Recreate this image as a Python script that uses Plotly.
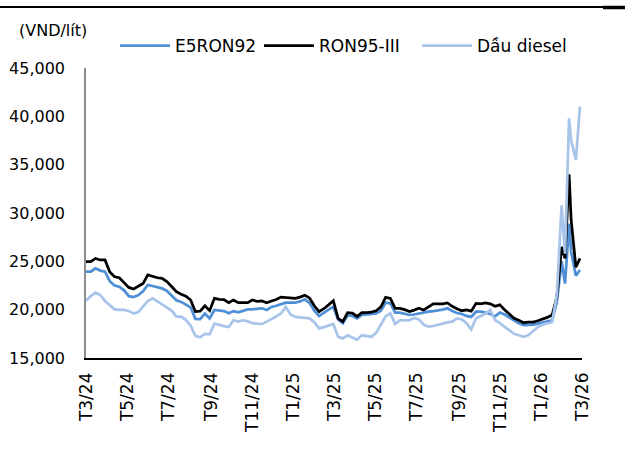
import pandas as pd
import plotly.graph_objects as go

# ---- data (VND per litre) ----
weekly_dates = list(pd.date_range("2024-03-07", periods=101, freq="7D").strftime("%Y-%m-%d"))
extra_dates = ["2026-02-10", "2026-02-16", "2026-02-19", "2026-02-26", "2026-03-04"]
dates = weekly_dates + extra_dates

e5ron92 = [
    23930, 23930, 24280, 24040, 23930, 22950, 22500, 22380, 22000, 21400, 21300, 21500, 21900, 22550,
    22450, 22300, 22200, 21950, 21500, 20980, 20800, 20550, 20240, 19050, 19030, 19600, 19100, 19970,
    19900, 19860, 19620, 19850, 19720, 19900, 20030, 20030, 20100, 20140,
    19970, 20280, 20400, 20600, 20720, 20720, 20720, 20850, 21070, 20700, 19900, 19340, 19700, 20000,
    20300, 19000, 18600, 19400, 19350, 19100, 19450, 19500, 19550, 19620, 19900, 20720, 20650, 19690,
    19690, 19550, 19450, 19500, 19620, 19700, 19790,
    19850, 19900, 20000, 20140, 19850, 19650, 19550, 19350, 19250, 19790, 19790, 19700, 19550, 19300,
    19700, 19500, 19200, 18850, 18600, 18410, 18410, 18450, 18550, 18650, 18760, 18900, 20800,
    25000, 22700, 28900, 26000, 23500, 24100,
]
ron95_iii = [
    24960, 24960, 25300, 25140, 25140, 23900, 23400, 23300, 22800, 22300, 22140, 22380, 22700, 23600,
    23410, 23300, 23240, 22900, 22400, 21860, 21600, 21400, 21000, 19800, 19850, 20400, 19900, 21170,
    21070, 21050, 20720, 21000, 20720, 20720, 20720, 21000, 20850, 20900,
    20720, 20900, 21050, 21300, 21250, 21170, 21170, 21300, 21500, 21200, 20400, 19800, 20100, 20500,
    20930, 19100, 18760, 19690, 19640, 19300, 19690, 19690, 19750, 19890, 20300, 21280, 21170, 20140,
    20140, 20000, 19800, 19950, 20140, 19970, 20300,
    20590, 20590, 20600, 20700, 20350, 20100, 19890, 19970, 19850, 20650, 20600, 20700, 20600, 20350,
    20500, 20000, 19500, 19100, 18900, 18650, 18700, 18720, 18850, 19000, 19200, 19450, 21300,
    26500, 25300, 34000, 29300, 24400, 25300,
]
diesel = [
    20930, 21400, 21760, 21500, 20900, 20500, 20030, 19970, 19970, 19850, 19600, 19750, 20300, 20900,
    21170, 20850, 20500, 20200, 19900, 19280, 19280, 18950, 18350, 17300, 17140, 17500, 17450, 18550,
    18400, 18300, 18200, 18900, 18760, 18900, 18800, 18600, 18550, 18520,
    18760, 19000, 19300, 19600, 20300, 19500, 19250, 19200, 19150, 19100, 18700, 18070, 18200, 18400,
    18520, 17200, 17030, 17350, 17100, 16900, 17350, 17250, 17200, 17600, 18500, 19300, 19620, 18520,
    18900, 18930, 18930, 19150, 19000, 18450, 18240,
    18310, 18450, 18590, 18680, 18760, 19100, 19000, 18600, 17960, 19100, 19350, 19600, 19970, 18930,
    18600, 18250, 17900, 17500, 17350, 17200, 17350, 17800, 18200, 18450, 18550, 18700, 21500,
    30800, 25800, 39800, 37500, 35500, 41000,
]

series_names = ["E5RON92", "RON95-III", "Dầu diesel"]
series_colors = ["#4F8FD6", "#000000", "#A9C4EA"]

tick_dates = ["2024-03-07", "2024-05-07", "2024-07-07", "2024-09-07", "2024-11-07", "2025-01-07",
              "2025-03-07", "2025-05-07", "2025-07-07", "2025-09-07", "2025-11-07", "2026-01-07",
              "2026-03-07"]
tick_labels = ["T3/24", "T5/24", "T7/24", "T9/24", "T11/24", "T1/25", "T3/25", "T5/25", "T7/25",
               "T9/25", "T11/25", "T1/26", "T3/26"]

FONT = "DejaVu Sans"
legend_ids = ["legend", "legend2", "legend3"]
legend_x = [0.0585, 0.3488, 0.6673]

fig = go.Figure()
for name, vals, col, lg in zip(series_names, [e5ron92, ron95_iii, diesel], series_colors, legend_ids):
    fig.add_trace(go.Scatter(x=dates, y=vals, mode="lines", name=name, legend=lg,
                             line=dict(color=col, width=2.75)))

legend_style = dict(orientation="h", y=1.076, xanchor="left", yanchor="middle",
                    font=dict(family=FONT, size=17, color="#000000"),
                    itemwidth=50, bgcolor="rgba(0,0,0,0)")

fig.update_layout(
    width=625, height=456,
    margin=dict(l=86, r=43, t=68, b=98, autoexpand=False),
    paper_bgcolor="white", plot_bgcolor="white",
    font=dict(family=FONT, size=16, color="#000000"),
    showlegend=True,
    legend=dict(x=legend_x[0], **legend_style),
    legend2=dict(x=legend_x[1], **legend_style),
    legend3=dict(x=legend_x[2], **legend_style),
    xaxis=dict(type="date", range=["2024-03-07", "2026-03-07"],
               tickmode="array", tickvals=tick_dates, ticktext=tick_labels,
               tickangle=-90, tickfont=dict(family=FONT, size=17),
               showgrid=False, zeroline=False, showline=True, linecolor="#000000", linewidth=1.5,
               ticks="", ticklabelstandoff=6, automargin=False),
    yaxis=dict(range=[15000, 45000], dtick=5000, tickformat=",",
               tickfont=dict(family=FONT, size=16),
               showgrid=False, zeroline=False, showline=True, linecolor="#8C8C8C", linewidth=1.5,
               ticks="", ticklabelstandoff=16, automargin=False),
    annotations=[dict(text="(VND/lít)", xref="paper", yref="paper", x=-0.0665, y=1.128,
                      xanchor="center", yanchor="middle", showarrow=False,
                      font=dict(family=FONT, size=16, color="#000000"))],
    shapes=[
        dict(type="line", xref="paper", yref="paper", x0=-0.1734, x1=1.0423, y0=1.2103, y1=1.2103,
             line=dict(color="#000000", width=2)),
        dict(type="line", xref="paper", yref="paper", x0=1.0423, x1=1.0867, y0=1.2086, y1=1.2086,
             line=dict(color="#000000", width=3.5)),
    ],
)

fig.write_html("out.html", config={"displayModeBar": False},
               post_script="document.body.style.margin='0px';")
